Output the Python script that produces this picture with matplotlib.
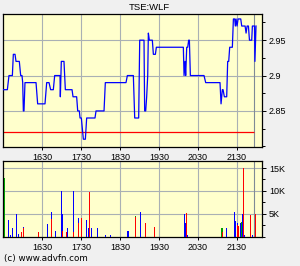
import matplotlib
matplotlib.use('Agg')
import matplotlib.pyplot as plt
from matplotlib.ticker import FixedLocator, MultipleLocator, FuncFormatter

plt.rcParams['font.family'] = ['Liberation Sans', 'DejaVu Sans']

title = "TSE:WLF"
footer = "(c) www.advfn.com"

# price trace (minutes since midnight, price)
price_times = [930, 936.7, 939.2, 944.4, 945.9, 948.5, 950, 955.1, 957.2, 959.2, 960.3, 961.3, 962.3,
               963.8, 980.8, 983.3, 994.6, 997.2, 1000.8, 1003.3, 1007.4, 1009.5, 1017.7, 1018.2,
               1019.7, 1023.8, 1025.9, 1036.2, 1037.7, 1043.3, 1044.9, 1047.4, 1048.5, 1050.5,
               1053.6, 1056.7, 1058.7, 1071.5, 1073.1, 1085.4, 1087.4, 1119.2, 1121.3, 1130.5,
               1132.6, 1138.7, 1140.3, 1146.9, 1147.9, 1149.5, 1151, 1152.6, 1153.6, 1155.1,
               1159.7, 1161.3, 1164.4, 1165.9, 1207.4, 1208.5, 1210, 1211, 1212.6, 1214.1,
               1215.6, 1216.7, 1218.2, 1239.2, 1241.8, 1263.8, 1265.4, 1267.4, 1268.5, 1270.5,
               1274.1, 1275.6, 1277.2, 1278.7, 1282.8, 1284.4, 1286.4, 1287.4, 1288.5, 1290,
               1291.6, 1295.7, 1297.2, 1302.4, 1303.9, 1305.5, 1307.5, 1309.1, 1312.6, 1313.6,
               1316.9, 1317.5, 1319.2]
prices = [2.88, 2.88, 2.90, 2.90, 2.93, 2.93, 2.92, 2.92, 2.90, 2.90, 2.89, 2.85, 2.85,
          2.89, 2.89, 2.86, 2.86, 2.89, 2.89, 2.88, 2.88, 2.90, 2.90, 2.87,
          2.92, 2.92, 2.88, 2.88, 2.87, 2.87, 2.85, 2.85, 2.84, 2.84,
          2.81, 2.81, 2.84, 2.84, 2.85, 2.85, 2.89, 2.89, 2.90, 2.90,
          2.84, 2.84, 2.95, 2.95, 2.85, 2.85, 2.87, 2.90, 2.96, 2.95,
          2.95, 2.93, 2.93, 2.94, 2.94, 2.90, 2.92, 2.90, 2.94, 2.94,
          2.95, 2.95, 2.90, 2.90, 2.89, 2.89, 2.86, 2.88, 2.88, 2.87,
          2.87, 2.92, 2.92, 2.94, 2.94, 2.98, 2.98, 2.97, 2.98, 2.97,
          2.98, 2.98, 2.97, 2.97, 2.96, 2.97, 2.97, 2.95, 2.95, 2.97,
          2.97, 2.92, 2.97]
ref_price = 2.82

# volume bars
vol_times = [931.8, 938.2, 941.8, 944.4, 950.5, 954.6, 957.7, 959.2, 960.8, 962.3, 962.3,
             984.4, 998.2, 1004.4, 1004.4, 1010.5, 1019.7, 1021.3, 1021.3, 1027.4, 1028.9,
             1038.2, 1038.7, 1045.4, 1045.4, 1050, 1059.2, 1060.8, 1063.8, 1065.4, 1075.1,
             1087.4, 1095.1, 1121.3, 1123.8, 1133.6, 1133.6, 1141.3, 1149, 1162.8, 1209,
             1210, 1211.6, 1213.6, 1266.4, 1267.9, 1267.9, 1273.6, 1285.9, 1287.4, 1290, 1290,
             1291.6, 1295.7, 1296.7, 1297.7, 1300.3, 1301.8, 1310.5, 1313.6, 1318.2]
vol_values = [12900, 3600, 400, 1900, 4900, 500, 1000, 1000, 1000, 2100, 1800,
              1000, 2750, 5400, 3900, 1300, 10000, 4900, 1300, 1000, 2000,
              10000, 1100, 4100, 2900, 4100, 3600, 2000, 9700, 1900, 2000,
              300, 300, 1200, 1200, 4500, 4300, 5400, 2900, 2200, 4900,
              2900, 5100, 300, 2000, 2000, 1000, 2000, 5400, 3400, 3000, 2500,
              2300, 3100, 3200, 4900, 15100, 300, 4700, 300, 4900]
vol_colors = ['g', 'b', 'b', 'b', 'b', 'b', 'r', 'r', 'r', 'b', 'r',
              'r', 'b', 'b', 'r', 'b', 'b', 'b', 'r', 'r', 'b',
              'b', 'r', 'b', 'r', 'r', 'b', 'b', 'r', 'b', 'b',
              'b', 'b', 'b', 'b', 'g', 'r', 'b', 'r', 'r', 'b',
              'b', 'r', 'b', 'g', 'g', 'r', 'b', 'b', 'b', 'b', 'r',
              'r', 'b', 'g', 'b', 'r', 'b', 'r', 'b', 'r']
color_map = {'b': '#0000ff', 'r': '#ff0000', 'g': '#00a000'}

tick_times = [990, 1050, 1110, 1170, 1230, 1290]
tick_labels = ['1630', '1730', '1830', '1930', '2030', '2130']
marker_time = 1316.6
x_start, x_end = 930, 1328.4

W, H = 300, 266
fig = plt.figure(figsize=(W / 100, H / 100), dpi=100, facecolor='#f0f0f0')

def box(l, t, r, b):
    return [l / W, 1 - b / H, (r - l) / W, (b - t) / H]

face = '#ffffcc'
grid_c = '#a9b0b4'
fs = 6.5

ax1 = fig.add_axes(box(3, 14, 262, 147), facecolor=face)
ax2 = fig.add_axes(box(3, 160.7, 262, 236.7), facecolor=face)

for ax in (ax1, ax2):
    ax.set_xlim(x_start, x_end)
    ax.xaxis.set_major_locator(FixedLocator(tick_times))
    ax.set_xticklabels(tick_labels, fontsize=fs)
    ax.grid(True, which='major', color=grid_c, linewidth=0.8, zorder=0)
    ax.set_axisbelow(True)
    ax.axvline(marker_time, color='#7f8a96', linewidth=0.8, zorder=1)
    for s in ax.spines.values():
        s.set_linewidth(0.9)
        s.set_color('black')
    ax.yaxis.tick_right()
    ax.tick_params(axis='x', length=2, width=0.7, pad=2.5, labelsize=fs)
    ax.tick_params(axis='y', which='major', length=3, width=0.7, pad=2, labelsize=fs)
    ax.tick_params(axis='y', which='minor', length=2, width=0.7)

# price panel
ax1.plot(price_times, prices, color='#0000ff', linewidth=0.9, zorder=3)
ax1.hlines(ref_price, x_start, marker_time, color='#ff0000', linewidth=0.9, zorder=2)
ax1.set_ylim(2.799, 2.987)
ax1.yaxis.set_major_locator(FixedLocator([2.85, 2.9, 2.95]))
ax1.yaxis.set_minor_locator(MultipleLocator(0.025))
ax1.yaxis.set_major_formatter(FuncFormatter(lambda v, p: '%g' % round(v, 3)))

# volume panel
ax2.bar(vol_times, vol_values, width=1.538, color=[color_map[c] for c in vol_colors],
        linewidth=0, antialiased=False, zorder=3)
ax2.set_ylim(0, 16600)
ax2.yaxis.set_major_locator(FixedLocator([5000, 10000, 15000]))
ax2.yaxis.set_minor_locator(MultipleLocator(2500))
ax2.yaxis.set_major_formatter(FuncFormatter(lambda v, p: '%dK' % round(v / 1000)))

fig.text(149 / W, 1 - 7.5 / H, title, ha='center', va='center', fontsize=6.8)
fig.text(4 / W, 1 - 259 / H, footer, ha='left', va='center', fontsize=6.3,
         family=['DejaVu Sans'])

fig.savefig('out.png', dpi=100, facecolor=fig.get_facecolor())
